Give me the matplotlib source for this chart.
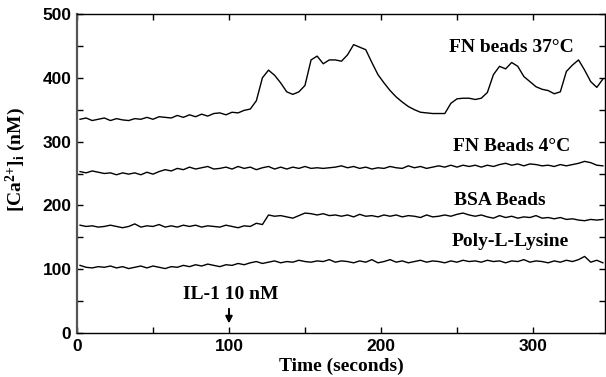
"""
Intracellular calcium traces after IL-1 addition.
"""

import numpy as np
import matplotlib
matplotlib.use("Agg")
import matplotlib.pyplot as plt
from matplotlib.ticker import MultipleLocator


# sample times (seconds), one reading every 4 s
TIME = np.arange(2, 347, 4)

FN_37C = [
    335, 337, 333, 335, 337, 333, 336, 334, 333, 336,
    335, 338, 335, 339, 338, 337, 341, 338, 342, 339,
    343, 340, 344, 345, 342, 346, 345, 349, 351, 364,
    400, 412, 404, 392, 378, 374, 378, 388, 428, 434,
    422, 428, 428, 426, 436, 452, 448, 444, 424, 405,
    392, 380, 370, 362, 355, 350, 346, 345, 344, 344,
    344, 360, 367, 368, 368, 366, 368, 377, 405, 418,
    414, 424, 418, 402, 394, 386, 382, 380, 375, 378,
    410, 420, 428, 412, 394, 385, 398
]

FN_4C = [
    253, 251, 254, 252, 250, 251, 248, 251, 249, 251,
    248, 252, 249, 253, 256, 254, 258, 256, 260, 257,
    259, 261, 257, 258, 260, 257, 261, 258, 260, 256,
    259, 261, 257, 260, 257, 260, 258, 261, 258, 259,
    258, 259, 260, 262, 259, 261, 258, 260, 257, 259,
    258, 261, 259, 258, 262, 259, 261, 258, 260, 262,
    260, 263, 260, 263, 261, 263, 260, 263, 261, 264,
    266, 263, 265, 262, 265, 264, 262, 263, 261, 264,
    262, 264, 266, 269, 267, 263, 262
]

BSA = [
    169, 167, 168, 166, 167, 169, 167, 165, 167, 171,
    166, 168, 167, 170, 166, 168, 166, 169, 167, 169,
    166, 168, 167, 166, 169, 167, 165, 168, 167, 172,
    170, 185, 183, 184, 182, 180, 184, 188, 187, 185,
    187, 184, 185, 183, 185, 182, 186, 183, 184, 182,
    185, 183, 185, 182, 184, 183, 181, 185, 182, 183,
    185, 183, 186, 188, 185, 183, 185, 182, 180, 184,
    181, 183, 180, 182, 181, 184, 180, 181, 179, 181,
    178, 179, 177, 176, 178, 177, 178
]

POLY_LYSINE = [
    106, 103, 102, 104, 103, 105, 102, 104, 101, 103,
    105, 102, 105, 103, 101, 104, 103, 106, 104, 107,
    105, 108, 106, 104, 107, 106, 109, 107, 110, 112,
    109, 111, 113, 110, 112, 111, 114, 112, 111, 113,
    112, 115, 111, 113, 112, 110, 113, 111, 115, 110,
    112, 115, 111, 113, 110, 112, 114, 111, 113, 112,
    110, 113, 111, 114, 112, 113, 111, 114, 112, 113,
    110, 113, 112, 115, 111, 113, 112, 110, 113, 111,
    114, 112, 115, 120, 111, 114, 110
]

SERIES = [FN_37C, FN_4C, BSA, POLY_LYSINE]

LABELS = ["FN beads 37°C", "FN Beads 4°C", "BSA Beads", "Poly-L-Lysine"]
LABEL_X = [286, 286, 278, 285]
LABEL_Y = [447, 293, 207, 143]


def main() -> None:
    plt.rcParams["mathtext.fontset"] = "custom"
    plt.rcParams["mathtext.rm"] = "Liberation Serif:bold"
    plt.rcParams["mathtext.it"] = "Liberation Serif:bold"
    plt.rcParams["mathtext.bf"] = "Liberation Serif:bold"

    fig = plt.figure(figsize=(6.06, 3.77), dpi=100)
    ax = fig.add_axes([77 / 606, 44 / 377, 528 / 606, 319 / 377])

    for values in SERIES:
        ax.plot(TIME, values, color="black", linewidth=1.0)

    serif = dict(family="Liberation Serif", weight="bold", size=14)
    for text, x, y in zip(LABELS, LABEL_X, LABEL_Y):
        ax.text(x, y, text, ha="center", va="center", **serif)

    # IL-1 addition marker
    ax.text(101, 60, "IL-1 10 nM", ha="center", va="center", **serif)
    ax.annotate(
        "", xy=(100, 15), xytext=(100, 38),
        arrowprops=dict(arrowstyle="-|>", color="black", lw=1.4,
                        mutation_scale=10, shrinkA=0, shrinkB=0)
    )

    ax.set_xlim(0, 347.4)
    ax.set_ylim(0, 500)
    ax.xaxis.set_major_locator(MultipleLocator(100))
    ax.xaxis.set_minor_locator(MultipleLocator(50))
    ax.yaxis.set_major_locator(MultipleLocator(100))
    ax.yaxis.set_minor_locator(MultipleLocator(50))
    ax.tick_params(which="both", direction="in", top=True, right=True,
                   length=4, width=1)
    ax.tick_params(axis="both", pad=4)
    for lab in ax.get_xticklabels() + ax.get_yticklabels():
        lab.set_fontfamily("Liberation Sans")
        lab.set_fontweight("bold")
        lab.set_fontsize(12.5)

    for spine in ax.spines.values():
        spine.set_linewidth(1.0)
    ax.spines["left"].set_linewidth(1.6)
    ax.spines["left"].set_color("#555555")

    ax.set_xlabel("Time (seconds)", **serif, labelpad=3)
    ax.set_ylabel(r"[Ca$^{2{+}}$]$_{i}$ (nM)", **serif)
    ax.yaxis.set_label_coords(-0.093, 0.545)

    fig.savefig("out.png", dpi=100)


if __name__ == "__main__":
    main()
